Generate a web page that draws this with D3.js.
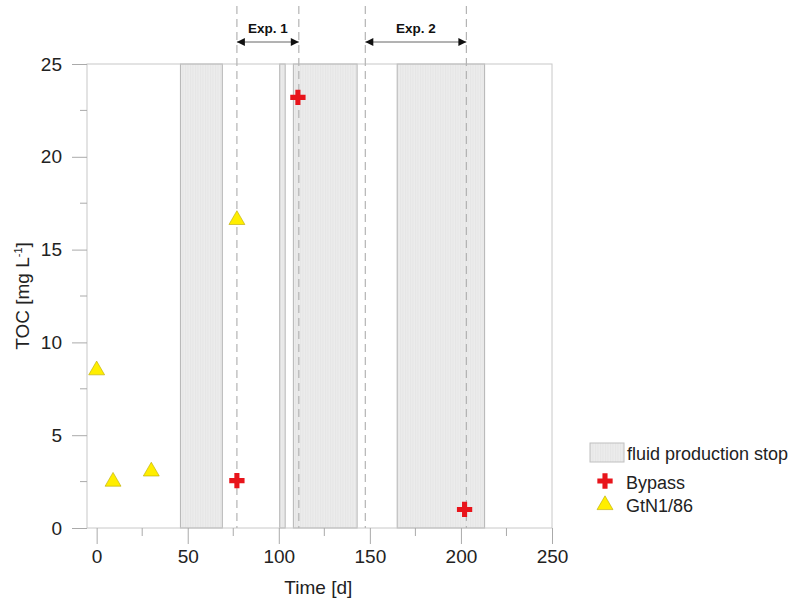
<!DOCTYPE html>
<html>
<head>
<meta charset="utf-8">
<script src="https://cdn.jsdelivr.net/npm/d3@7"></script>
<style>
body { margin:0; background:#fff; }
text { font-family: "Liberation Sans", Arial, sans-serif; }
</style>
</head>
<body>
<script>
// data
const stopStart = [46, 100.5, 108, 165];
const stopEnd   = [69, 103.5, 143, 213];
const bypassDay = [77, 110.5, 202];
const bypassToc = [2.55, 23.2, 1.0];
const gtnDay = [0, 9, 30, 77];
const gtnToc = [8.5, 2.5, 3.05, 16.6];
const expNames = ["Exp. 1", "Exp. 2"];
const expStart = [77, 147.5];
const expEnd   = [111, 203];
const xTicks = [0, 50, 100, 150, 200, 250];
const yTicks = [0, 5, 10, 15, 20, 25];

const W = 804, H = 599;
const margin = {top: 64, right: 252, bottom: 71, left: 87};

const svg = d3.select("body").append("svg")
  .attr("width", W).attr("height", H);

const x = d3.scaleLinear().domain([-5.3, 250]).range([margin.left, W - margin.right]);
const y = d3.scaleLinear().domain([0, 25]).range([H - margin.bottom, margin.top]);

const defs = svg.append("defs");
const pat = defs.append("pattern")
  .attr("id", "hatch").attr("patternUnits", "userSpaceOnUse")
  .attr("width", 2.5).attr("height", 4);
pat.append("rect").attr("width", 2.5).attr("height", 4).attr("fill", "#ececec");
pat.append("line").attr("x1", 0.5).attr("x2", 0.5).attr("y1", 0).attr("y2", 4)
  .attr("stroke", "#e0e0e0").attr("stroke-width", 0.6);

// shaded stop periods
svg.selectAll(".stop")
  .data(stopStart.map((s, i) => ({s: s, e: stopEnd[i]})))
  .enter().append("rect")
  .attr("class", "stop")
  .attr("x", d => x(d.s))
  .attr("y", y(25))
  .attr("width", d => x(d.e) - x(d.s))
  .attr("height", y(0) - y(25))
  .attr("fill", "url(#hatch)")
  .attr("stroke", "#b5b5b5")
  .attr("stroke-width", 1);

// frame
svg.append("rect")
  .attr("x", x(-5.3)).attr("y", y(25))
  .attr("width", x(250) - x(-5.3)).attr("height", y(0) - y(25))
  .attr("fill", "none").attr("stroke", "#c8c8c8").attr("stroke-width", 1);

// axes
const gx = svg.append("g").attr("transform", `translate(0,${y(0)})`)
  .call(d3.axisBottom(x).tickValues(xTicks).tickSize(16).tickPadding(6).tickFormat(d3.format("d")));
gx.append("g").selectAll("line")
  .data([25, 75, 125, 175, 225]).enter().append("line")
  .attr("x1", d => x(d)).attr("x2", d => x(d))
  .attr("y1", 0).attr("y2", 8).attr("stroke", "#aaa");

const gy = svg.append("g").attr("transform", `translate(${x(-5.3)},0)`)
  .call(d3.axisLeft(y).tickValues(yTicks).tickSize(15).tickPadding(10));
gy.append("g").selectAll("line")
  .data([2.5, 7.5, 12.5, 17.5, 22.5]).enter().append("line")
  .attr("y1", d => y(d)).attr("y2", d => y(d))
  .attr("x1", 0).attr("x2", -7).attr("stroke", "#aaa");

[gx, gy].forEach(g => {
  g.select(".domain").remove();
  g.selectAll(".tick line").attr("stroke", "#aaa");
  g.selectAll(".tick text").attr("font-size", 19).attr("fill", "#222")
    .attr("font-family", "Liberation Sans, Arial, sans-serif");
});

// axis titles
svg.append("text")
  .attr("x", x(125) - 6).attr("y", 594)
  .attr("text-anchor", "middle").attr("font-size", 19).attr("fill", "#222")
  .text("Time [d]");

const yt = svg.append("text")
  .attr("transform", `translate(29,${y(12.5)}) rotate(-90)`)
  .attr("text-anchor", "middle").attr("font-size", 19).attr("fill", "#222");
yt.append("tspan").text("TOC [mg L");
yt.append("tspan").attr("dy", -7).attr("font-size", 11).text("-1");
yt.append("tspan").attr("dy", 7).text("]");

// experiment markers
const exps = expNames.map((n, i) => ({name: n, s: expStart[i], e: expEnd[i]}));
const dashes = [];
exps.forEach(d => { dashes.push(d.s); dashes.push(d.e); });
svg.selectAll(".dash")
  .data(dashes).enter().append("line")
  .attr("x1", d => x(d)).attr("x2", d => x(d))
  .attr("y1", 6).attr("y2", y(0))
  .attr("stroke", "#b4b4b4").attr("stroke-width", 1.2)
  .attr("stroke-dasharray", "8,5");

defs.append("marker").attr("id", "arr")
  .attr("viewBox", "0 0 10 10").attr("refX", 10).attr("refY", 5)
  .attr("markerWidth", 9).attr("markerHeight", 8)
  .attr("markerUnits", "userSpaceOnUse")
  .attr("orient", "auto-start-reverse")
  .append("path").attr("d", "M0,0L10,5L0,10z").attr("fill", "#111");

svg.selectAll(".arrow")
  .data(exps).enter().append("line")
  .attr("x1", d => x(d.s)).attr("x2", d => x(d.e))
  .attr("y1", 42).attr("y2", 42)
  .attr("stroke", "#666").attr("stroke-width", 1)
  .attr("marker-start", "url(#arr)").attr("marker-end", "url(#arr)");

svg.selectAll(".explab")
  .data(exps).enter().append("text")
  .attr("x", d => (x(d.s) + x(d.e)) / 2).attr("y", 33)
  .attr("text-anchor", "middle").attr("font-size", 13.5).attr("font-weight", "bold")
  .attr("fill", "#111")
  .text(d => d.name);

// series
const cross = d3.symbol().type(d3.symbolCross).size(130);
const tri = d3.symbol().type(d3.symbolTriangle).size(110);

svg.selectAll(".gtn")
  .data(gtnDay.map((d, i) => [d, gtnToc[i]])).enter().append("path")
  .attr("transform", d => `translate(${x(d[0])},${y(d[1])})`)
  .attr("d", tri).attr("fill", "#ffee00").attr("stroke", "#b8a800").attr("stroke-width", 0.6);

svg.selectAll(".bypass")
  .data(bypassDay.map((d, i) => [d, bypassToc[i]])).enter().append("path")
  .attr("transform", d => `translate(${x(d[0])},${y(d[1])})`)
  .attr("d", cross).attr("fill", "#e8141b");

// legend
const lg = svg.append("g");
lg.append("rect").attr("x", 590).attr("y", 443).attr("width", 34).attr("height", 19)
  .attr("fill", "url(#hatch)").attr("stroke", "#c0c0c0");
lg.append("path").attr("transform", "translate(605,481)").attr("d", cross).attr("fill", "#e8141b");
lg.append("path").attr("transform", "translate(605,505)").attr("d", tri)
  .attr("fill", "#ffee00").attr("stroke", "#b8a800").attr("stroke-width", 0.6);
lg.selectAll("text")
  .data(["fluid production stop", "Bypass", "GtN1/86"]).enter().append("text")
  .attr("x", (d, i) => i === 0 ? 627 : 626)
  .attr("y", (d, i) => [460, 489, 512][i])
  .attr("font-size", 18).attr("fill", "#222")
  .text(d => d);
</script>
</body>
</html>
